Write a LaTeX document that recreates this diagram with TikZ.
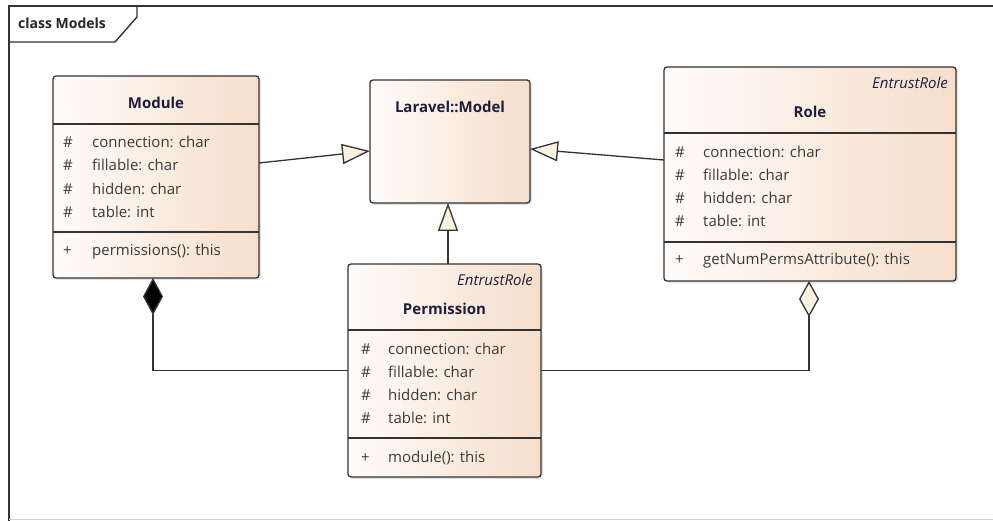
\documentclass[tikz,border=0pt]{standalone}
\usepackage{fontspec}
\setmainfont{Open Sans}
\usetikzlibrary{arrows.meta,calc,shadows}
\definecolor{peach}{HTML}{F6DECB}
\definecolor{peachl}{HTML}{FFFCFA}
\definecolor{edge}{HTML}{333333}
\definecolor{txt}{HTML}{3A3A3A}
\definecolor{ttl}{HTML}{1E1E3C}
\definecolor{tri}{HTML}{FBF1E2}
\begin{document}
\begin{tikzpicture}[x=1pt,y=-1pt,
  cls/.style={draw=edge, line width=1.3pt, rounded corners=3pt, left color=peachl, right color=peach,
    anchor=north west, inner sep=0pt, outer sep=0pt,
    drop shadow={shadow xshift=2pt, shadow yshift=-2pt, opacity=0.22}},
  sepline/.style={draw=edge, line width=1.3pt},
  attr/.style={anchor=base west, inner sep=0pt, text=txt, font=\fontsize{15}{18}\selectfont},
  ttlnode/.style={anchor=base, inner sep=0pt, text=ttl, font=\fontsize{15}{18}\selectfont\bfseries},
  stereo/.style={anchor=base east, inner sep=0pt, text=ttl, font=\fontsize{15}{18}\selectfont\itshape},
  conn/.style={draw=edge, line width=1.3pt},
  gen/.style={conn, -{Triangle[length=28pt,width=20pt,fill=tri]}},
  comp/.style={conn, {Diamond[length=37pt,width=20pt,fill=black]}-},
  aggr/.style={conn, {Diamond[length=36pt,width=20pt,fill=tri]}-},
  frameline/.style={draw=edge, line width=1.4pt}
]
\useasboundingbox (0,0) rectangle (993,521);

% frame
\draw[frameline] (9,521) -- (9,6) -- (993,6);
\draw[black!18, line width=1pt] (9,519.5) -- (993,519.5);
\draw[frameline] (9,42) -- (115,42) -- (137,17) -- (137,6);
\node[anchor=base west, inner sep=0pt, font=\fontsize{14}{16}\selectfont\bfseries, text=black!85] (frametitle) at (18,29) {class Models};

% Module
\node[cls, minimum width=206pt, minimum height=202pt] (module) at (53,76) {};
\draw[sepline] (module.west |- 0,124) -- (module.east |- 0,124);
\draw[sepline] (module.west |- 0,232) -- (module.east |- 0,232);
\node[ttlnode] (moduleT) at (156,109) {Module};
\node[attr] (m1s) at (63,148) {\#};  \node[attr] (m1) at (92,148) {connection: char};
\node[attr] (m2s) at (63,171) {\#};  \node[attr] (m2) at (92,171) {fillable: char};
\node[attr] (m3s) at (63,194.5) {\#};\node[attr] (m3) at (92,194.5) {hidden: char};
\node[attr] (m4s) at (63,218) {\#};  \node[attr] (m4) at (92,218) {table: int};
\node[attr] (m5s) at (63,256) {+};   \node[attr] (m5) at (92,256) {permissions(): this};

% Laravel::Model
\node[cls, minimum width=160pt, minimum height=123pt] (model) at (370,80) {};
\node[ttlnode] (modelT) at (450,113) {Laravel::Model};

% Role
\node[cls, minimum width=292pt, minimum height=214pt] (role) at (664,67) {};
\draw[sepline] (role.west |- 0,133) -- (role.east |- 0,133);
\draw[sepline] (role.west |- 0,242) -- (role.east |- 0,242);
\node[stereo] (roleS) at (948,89) {EntrustRole};
\node[ttlnode] (roleT) at (810,118) {Role};
\node[attr] (r1s) at (675,158) {\#};  \node[attr] (r1) at (703,158) {connection: char};
\node[attr] (r2s) at (675,181) {\#};  \node[attr] (r2) at (703,181) {fillable: char};
\node[attr] (r3s) at (675,204) {\#};  \node[attr] (r3) at (703,204) {hidden: char};
\node[attr] (r4s) at (675,227) {\#};  \node[attr] (r4) at (703,227) {table: int};
\node[attr] (r5s) at (675,265) {+};   \node[attr] (r5) at (703,265) {getNumPermsAttribute(): this};

% Permission
\node[cls, minimum width=193pt, minimum height=213pt] (perm) at (348,264) {};
\draw[sepline] (perm.west |- 0,330) -- (perm.east |- 0,330);
\draw[sepline] (perm.west |- 0,438) -- (perm.east |- 0,438);
\node[stereo] (permS) at (533,286) {EntrustRole};
\node[ttlnode] (permT) at (444.5,314) {Permission};
\node[attr] (p1s) at (361,354) {\#};  \node[attr] (p1) at (388,354) {connection: char};
\node[attr] (p2s) at (361,377) {\#};  \node[attr] (p2) at (388,377) {fillable: char};
\node[attr] (p3s) at (361,400) {\#};  \node[attr] (p3) at (388,400) {hidden: char};
\node[attr] (p4s) at (361,423) {\#};  \node[attr] (p4) at (388,423) {table: int};
\node[attr] (p5s) at (361,462) {+};   \node[attr] (p5) at (388,462) {module(): this};

% connectors
\draw[gen] ($(module.east)+(0,-14)$) -- ($(model.west)+(0,9.5)$);
\draw[gen] ($(role.west)+(0,-14)$) -- ($(model.east)+(0,7.5)$);
\draw[gen] ($(perm.north)+(3.5,0)$) -- ($(model.south)+(-2,0)$);
\draw[comp] ($(module.south)+(-3,0)$) |- (perm.west);
\draw[aggr] ($(role.south)+(-1,0)$) |- (perm.east);
\end{tikzpicture}
\end{document}
